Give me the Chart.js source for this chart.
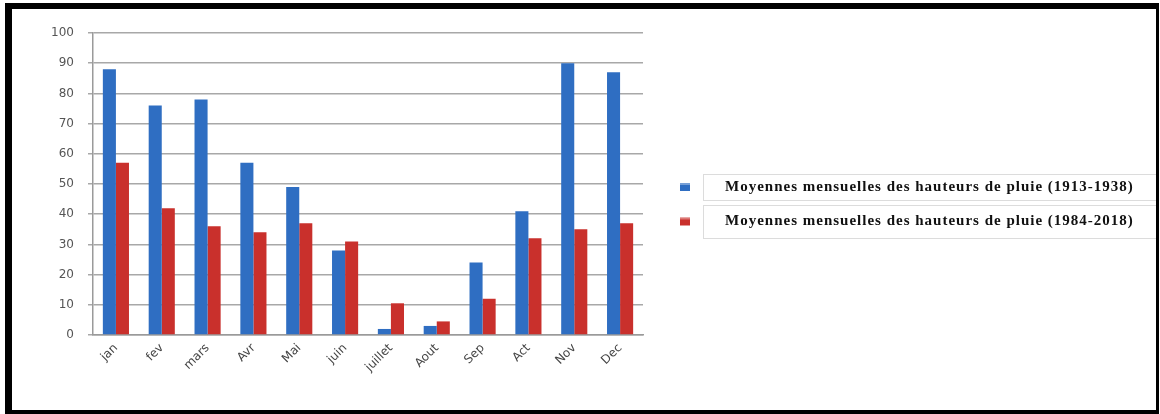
<!DOCTYPE html>
<html>
<head>
<meta charset="utf-8">
<script src="https://cdn.jsdelivr.net/npm/chart.js@4/dist/chart.umd.min.js"></script>
<style>
  html, body { margin: 0; padding: 0; background: #fff; }
  #frame {
    position: absolute; left: 5px; top: 3px;
    width: 1144px; height: 401px;
    border-style: solid; border-color: #000;
    border-width: 6px 3px 4px 7px;
    background: #fff;
  }
  #pluie { display: block; }
</style>
</head>
<body>
<div id="frame"><canvas id="pluie" width="1144" height="401"></canvas></div>
<script>
const mois = ["jan", "fev", "mars", "Avr", "Mai", "juin", "juillet", "Aout", "Sep", "Act", "Nov", "Dec"];
// periode 1913-1938
const pluieAncienne = [88, 76, 78, 57, 49, 28, 2, 3, 24, 41, 90, 87];
// periode 1984-2018
const pluieRecente = [57, 42, 36, 34, 37, 31, 10.5, 4.5, 12, 32, 35, 37];
const nomsSeries = [
  "Moyennes mensuelles des hauteurs de pluie (1913-1938)",
  "Moyennes mensuelles des hauteurs de pluie (1984-2018)"
];
const couleurs = ["#2f6ec2", "#c9302c"];
const ticksY = [0, 10, 20, 30, 40, 50, 60, 70, 80, 90, 100];

//legend drawn as two framed rows on the right
const legendeCadre = {
  id: "legendeCadre",
  afterDraw(chart) {
    const ctx = chart.ctx;
    const rows = [{ top: 165, h: 26 }, { top: 196, h: 33 }];
    ctx.save();
    chart.data.datasets.forEach((ds, i) => {
      const r = rows[i];
      const mid = r.top + r.h / 2;
      ctx.strokeStyle = "#dcdcdc";
      ctx.lineWidth = 1;
      ctx.strokeRect(691.5, r.top + 0.5, 460, r.h);
      ctx.fillStyle = ds.backgroundColor;
      ctx.fillRect(668, mid - 4, 10, 8);
      ctx.fillStyle = "rgba(255,255,255,0.35)";
      ctx.fillRect(668, mid - 4, 10, 2);
      ctx.fillStyle = "#111";
      ctx.font = "bold 15px 'Liberation Serif', serif";
      ctx.letterSpacing = "1px";
      ctx.textBaseline = "middle";
      ctx.fillText(ds.label, 713, mid);
    });
    ctx.restore();
  }
};

const chart = new Chart(document.getElementById("pluie"), {
  type: "bar",
  plugins: [legendeCadre],
  data: {
    labels: mois,
    datasets: [
      { label: nomsSeries[0], data: pluieAncienne, backgroundColor: couleurs[0] },
      { label: nomsSeries[1], data: pluieRecente, backgroundColor: couleurs[1] }
    ]
  },
  options: {
    responsive: false,
    animation: false,
    layout: { padding: { top: 24, right: 513, left: 0, bottom: 0 } },
    datasets: { bar: { categoryPercentage: 0.57, barPercentage: 1.0 } },
    plugins: {
      legend: { display: false },
      tooltip: { enabled: false }
    },
    scales: {
      x: {
        grid: { display: false, tickLength: 4 },
        border: { color: "#9a9a9a", width: 1.5 },
        ticks: {
          color: "#444",
          font: { family: "'DejaVu Sans', sans-serif", size: 12 },
          minRotation: 45, maxRotation: 45, padding: 2
        },
        afterFit: (s) => { s.height = 75; }
      },
      y: {
        min: 0, max: 100,
        afterBuildTicks: (s) => { s.ticks = ticksY.map(v => ({ value: v })); },
        grid: { color: "#a8a8a8", lineWidth: 1.5, tickLength: 5 },
        border: { color: "#9a9a9a", width: 1.5 },
        ticks: {
          color: "#555",
          font: { family: "'DejaVu Sans', sans-serif", size: 12 },
          padding: 14
        },
        afterFit: (s) => { s.width = 81; }
      }
    }
  }
});
</script>
</body>
</html>
